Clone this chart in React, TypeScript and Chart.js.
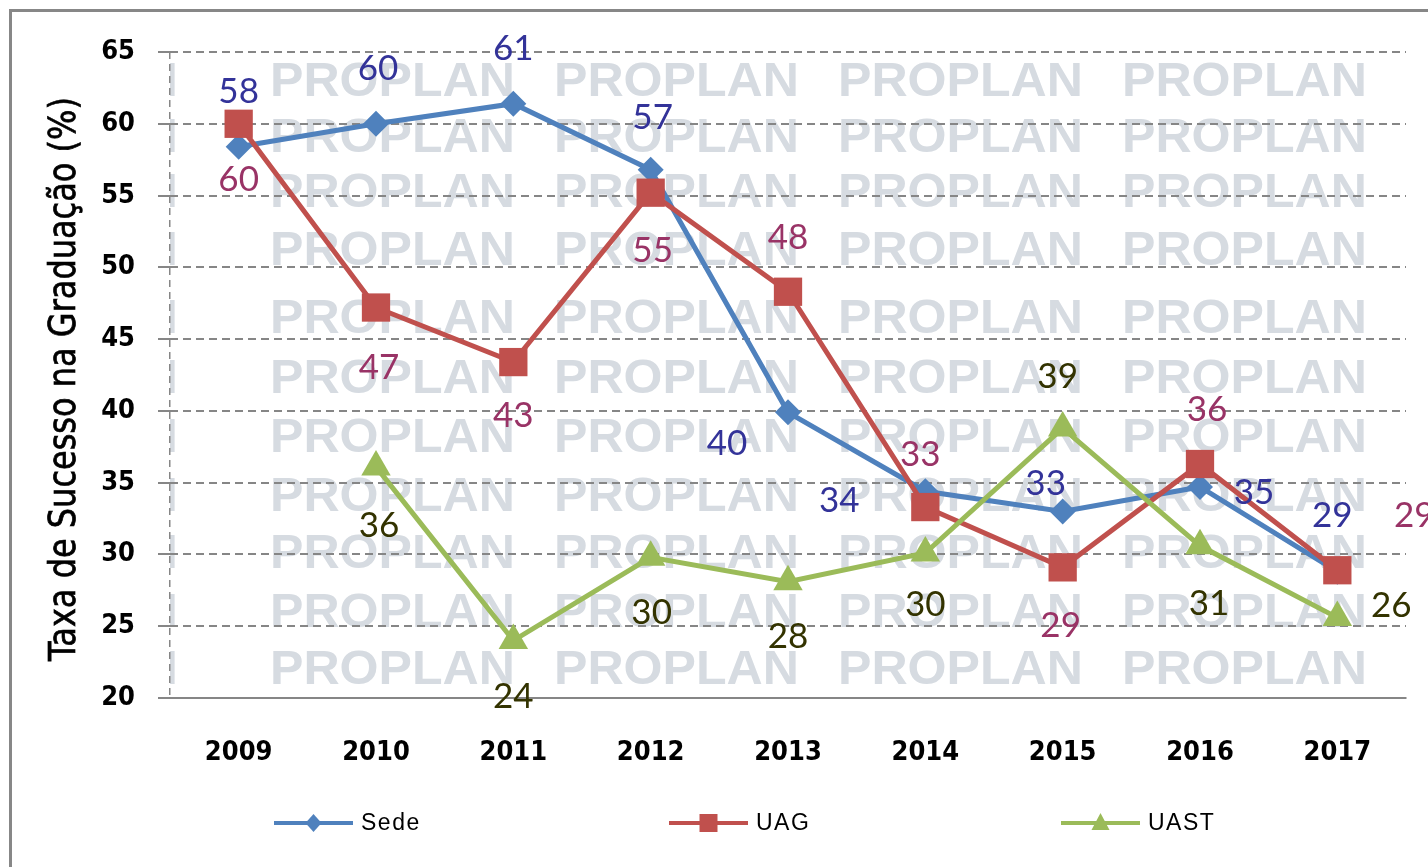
import React, { useEffect, useRef } from 'react';
import { Chart, registerables } from 'chart.js';

Chart.register(...registerables);

// ---------- data ----------
const YEARS = ['2009', '2010', '2011', '2012', '2013', '2014', '2015', '2016', '2017'];
const SEDE = [58.4, 60.0, 61.4, 56.8, 39.9, 34.4, 33.0, 34.7, 28.8];
const UAG = [60.0, 47.2, 43.4, 55.2, 48.3, 33.3, 29.1, 36.3, 28.9];
const UAST = [null, 36.1, 24.0, 29.8, 28.1, 30.1, 38.8, 30.6, 25.6];
const SERIES_NAMES = ['Sede', 'UAG', 'UAST'];
const Y_MIN = 20;
const Y_MAX = 65;
const Y_STEP = 5;
const Y_TITLE = 'Taxa de Sucesso na Graduação (%)';
const WATERMARK = 'PROPLAN';

// ---------- styling ----------
const COLORS = ['#4F81BD', '#C0504D', '#9BBB59'];
const LABEL_COLORS = ['#333399', '#993366', '#333300'];
const POINT_STYLES = ['rectRot', 'rect', 'triangle'];
const POINT_RADII = [13, 20, 17];
const DRAW_ORDER = [3, 2, 1];
// label offsets (px) relative to each point
const LABEL_OFFSETS: (number[] | null)[][] = [
  [[0, -55], [2, -55], [0, -55], [2, -52], [-61, 31], [-86, 9], [-17, -28], [54, 6], [-5, -56]],
  [[0, 56], [3, 60], [0, 54], [2, 58], [0, -54], [-5, -52], [-2, 58], [7, -54], [77, -55]],
  [null, [3, 59], [0, 56], [1, 55], [0, 55], [0, 52], [-5, -51], [9, 58], [54, -12]],
];
const GRID_COLOR = '#868686';
const WM_COLOR = '#D6DBE1';
const WM_COLS = [-67, 270, 554, 838, 1122];
const WM_ROWS = [62, 118, 173, 231, 299, 359, 418, 477, 534, 593, 650];
const WM_WIDTH = 245;
const LEGEND_X = [274, 669, 1061];
const LEGEND_Y = 823;
const LEGEND_LINE = 79;
const TICK_FONT = '"DejaVu Sans Condensed", "Liberation Sans", sans-serif';
const TITLE_BASELINE_X = 75;
const TITLE_STRETCH = 1.16;

const watermarkPlugin = {
  id: 'watermark',
  beforeDraw(chart: any) {
    const { ctx, chartArea } = chart;
    ctx.save();
    ctx.beginPath();
    ctx.rect(chartArea.left, chartArea.top, chartArea.right - chartArea.left, chartArea.bottom - chartArea.top);
    ctx.clip();
    ctx.fillStyle = WM_COLOR;
    ctx.font = 'bold 48px "Liberation Sans", Arial, sans-serif';
    ctx.textBaseline = 'alphabetic';
    ctx.textAlign = 'left';
    const w = ctx.measureText(WATERMARK).width;
    const sx = WM_WIDTH / w;
    for (const top of WM_ROWS) {
      for (const left of WM_COLS) {
        ctx.save();
        ctx.translate(left, top + 34);
        ctx.scale(sx, 1);
        ctx.fillText(WATERMARK, 0, 0);
        ctx.restore();
      }
    }
    ctx.restore();
  },
};

const yTitlePlugin = {
  id: 'yTitle',
  afterDraw(chart: any) {
    const { ctx, chartArea } = chart;
    const cy = (chartArea.top + chartArea.bottom) / 2 + 4;
    ctx.save();
    ctx.translate(TITLE_BASELINE_X, cy);
    ctx.rotate(-Math.PI / 2);
    ctx.scale(1, TITLE_STRETCH);
    ctx.font = '32px "DejaVu Sans", Verdana, sans-serif';
    ctx.fillStyle = '#000';
    ctx.strokeStyle = '#000';
    ctx.lineWidth = 0.6;
    ctx.textAlign = 'center';
    ctx.textBaseline = 'alphabetic';
    ctx.fillText(Y_TITLE, 0, 0);
    ctx.strokeText(Y_TITLE, 0, 0);
    ctx.restore();
  },
};

const dataLabelPlugin = {
  id: 'dataLabels',
  afterDatasetsDraw(chart: any) {
    const { ctx } = chart;
    ctx.save();
    ctx.font = '35px Lato, "Open Sans", sans-serif';
    ctx.textAlign = 'center';
    ctx.textBaseline = 'middle';
    chart.data.datasets.forEach((ds: any, di: number) => {
      const meta = chart.getDatasetMeta(di);
      meta.data.forEach((el: any, i: number) => {
        const v = ds.data[i];
        const off = LABEL_OFFSETS[di][i];
        if (v === null || v === undefined || !off) return;
        ctx.fillStyle = LABEL_COLORS[di];
        ctx.fillText(String(Math.round(v)), el.x + off[0], el.y + off[1]);
      });
    });
    ctx.restore();
  },
};

function drawMarker(ctx: CanvasRenderingContext2D, style: string, x: number, y: number) {
  ctx.beginPath();
  if (style === 'rectRot') {
    ctx.moveTo(x - 8, y);
    ctx.lineTo(x, y - 9);
    ctx.lineTo(x + 8, y);
    ctx.lineTo(x, y + 9);
  } else if (style === 'rect') {
    ctx.rect(x - 9, y - 9, 18, 18);
  } else {
    ctx.moveTo(x, y - 10);
    ctx.lineTo(x + 9, y + 7);
    ctx.lineTo(x - 9, y + 7);
  }
  ctx.closePath();
  ctx.fill();
}

const legendPlugin = {
  id: 'customLegend',
  afterDraw(chart: any) {
    const { ctx } = chart;
    ctx.save();
    chart.data.datasets.forEach((ds: any, di: number) => {
      const x0 = LEGEND_X[di];
      ctx.strokeStyle = COLORS[di];
      ctx.fillStyle = COLORS[di];
      ctx.lineWidth = 4;
      ctx.beginPath();
      ctx.moveTo(x0, LEGEND_Y);
      ctx.lineTo(x0 + LEGEND_LINE, LEGEND_Y);
      ctx.stroke();
      drawMarker(ctx, POINT_STYLES[di], x0 + LEGEND_LINE / 2, LEGEND_Y);
      ctx.fillStyle = '#000';
      ctx.font = '23px "Liberation Sans", Arial, sans-serif';
      (ctx as any).letterSpacing = '1.5px';
      ctx.textAlign = 'left';
      ctx.textBaseline = 'middle';
      ctx.fillText(ds.label, x0 + LEGEND_LINE + 8, LEGEND_Y + 1);
    });
    ctx.restore();
  },
};

export default function App() {
  const ref = useRef<HTMLCanvasElement>(null);

  useEffect(() => {
    const canvas = ref.current;
    if (!canvas) return;
    const seriesData = [SEDE, UAG, UAST];
    const chart = new Chart(canvas, {
      type: 'line',
      data: {
        labels: YEARS,
        datasets: seriesData.map((d, i) => ({
          label: SERIES_NAMES[i],
          data: d,
          borderColor: COLORS[i],
          backgroundColor: COLORS[i],
          borderWidth: 5,
          pointStyle: POINT_STYLES[i],
          pointRadius: POINT_RADII[i],
          pointHoverRadius: POINT_RADII[i],
          pointBackgroundColor: COLORS[i],
          pointBorderColor: COLORS[i],
          pointBorderWidth: 0,
          tension: 0,
          fill: false,
          order: DRAW_ORDER[i],
          clip: false,
        })) as any,
      },
      options: {
        responsive: false,
        maintainAspectRatio: false,
        devicePixelRatio: 1,
        animation: false,
        layout: { padding: { left: 0, top: 52, right: 22, bottom: 0 } },
        plugins: {
          legend: { display: false },
          tooltip: { enabled: false },
        },
        scales: {
          x: {
            type: 'category',
            offset: true,
            afterFit: (scale: any) => {
              scale.height = 169;
            },
            grid: {
              display: true,
              offset: true,
              drawTicks: false,
              drawOnChartArea: true,
              lineWidth: 1.5,
              color: (c: any) => (c.index === 0 ? GRID_COLOR : 'rgba(0,0,0,0)'),
            },
            border: { display: true, color: GRID_COLOR, width: 2, dash: [7, 5] },
            ticks: {
              color: '#000',
              padding: 39,
              font: { family: TICK_FONT, size: 27, weight: 'bold' },
            },
          },
          y: {
            min: Y_MIN,
            max: Y_MAX,
            afterFit: (scale: any) => {
              scale.width = 170;
            },
            grid: {
              color: GRID_COLOR,
              lineWidth: 2,
              drawTicks: true,
              tickLength: 12,
              tickWidth: 2,
              tickColor: GRID_COLOR,
            },
            border: { display: false, dash: [8, 5] },
            ticks: {
              stepSize: Y_STEP,
              color: '#000',
              padding: 23,
              font: { family: TICK_FONT, size: 27, weight: 'bold' },
            },
            title: { display: false, text: Y_TITLE },
          },
        },
      } as any,
      plugins: [watermarkPlugin, dataLabelPlugin, yTitlePlugin, legendPlugin],
    });
    return () => chart.destroy();
  }, []);

  return (
    <div style={{ position: 'fixed', inset: 0, overflow: 'hidden', background: '#fff' }}>
      <div
        style={{
          position: 'absolute',
          left: 9,
          top: 9,
          width: 1500,
          height: 900,
          borderLeft: '3px solid #878787',
          borderTop: '3px solid #878787',
        }}
      />
      <canvas
        ref={ref}
        width={1428}
        height={867}
        style={{ position: 'absolute', left: 0, top: 0, width: 1428, height: 867 }}
      />
    </div>
  );
}
